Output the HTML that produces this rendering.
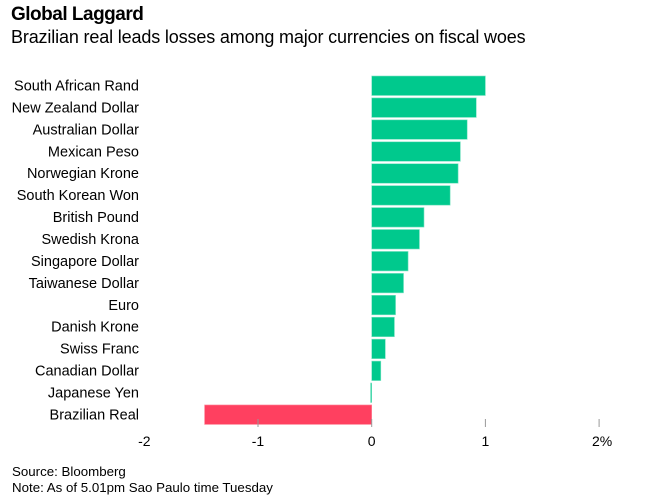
<!DOCTYPE html>
<html><head><meta charset="utf-8"><style>
body{margin:0;background:#fff;width:656px;height:504px;overflow:hidden;font-family:"Liberation Sans",Arial,sans-serif;color:#000}
#t{position:absolute;left:11px;top:4px;font-size:19px;font-weight:bold;letter-spacing:-0.5px}
#s{position:absolute;left:11px;top:27px;font-size:18px;letter-spacing:-0.15px}
.f{position:absolute;left:12px;font-size:13.3px}
</style></head><body>
<div id="t">Global Laggard</div>
<div id="s">Brazilian real leads losses among major currencies on fiscal woes</div>
<svg id="c" width="656" height="504" style="position:absolute;left:0;top:0"></svg>
<div class="f" style="top:464px">Source: Bloomberg</div>
<div class="f" style="top:480px">Note: As of 5.01pm Sao Paulo time Tuesday</div>
<script>
const categories=["South African Rand","New Zealand Dollar","Australian Dollar","Mexican Peso","Norwegian Krone","South Korean Won","British Pound","Swedish Krona","Singapore Dollar","Taiwanese Dollar","Euro","Danish Krone","Swiss Franc","Canadian Dollar","Japanese Yen","Brazilian Real"];
const values=[1.0,0.92,0.84,0.78,0.76,0.69,0.46,0.42,0.32,0.28,0.21,0.20,0.12,0.08,-0.01,-1.47];
const ticks=[-2,-1,0,1,2];
const tickLabels=["-2","-1","0","1","2%"];
const NS="http://www.w3.org/2000/svg";
const svg=document.getElementById('c');
const x=v=>371.7+v*113.7;
const rowY=i=>76+i*21.93;
function mk(tag,at){const e=document.createElementNS(NS,tag);for(const k in at)e.setAttribute(k,at[k]);svg.appendChild(e);return e;}
categories.forEach((c,i)=>{
  const v=values[i];
  const y=rowY(i);
  const neg=v<-0.05;
  const r=mk('rect',{x:Math.min(x(0),x(v)),y:y,width:Math.max(1,Math.abs(x(v)-x(0))),height:19.5,fill:neg?'#ff4060':'#00c98d',stroke:neg?'#ff8fa0':'#7fe3c4','stroke-width':0.6});
  
  
  const t=mk('text',{x:139,y:y+14.5,'text-anchor':'end','font-size':14.5,'font-family':'Liberation Sans, Arial, sans-serif'});
  t.textContent=c;
  
  
});
ticks.forEach((v,i)=>{
  if(v>-2){const l=mk('line',{x1:x(v),x2:x(v),y1:419,y2:427,stroke:'#999','stroke-width':1});
  
  }
  const t=mk('text',{x:x(v)+(i==4?3:0),y:446,'text-anchor':'middle','font-size':14,'font-family':'Liberation Sans, Arial, sans-serif'});
  t.textContent=tickLabels[i];
  
  
});
</script>
</body></html>
